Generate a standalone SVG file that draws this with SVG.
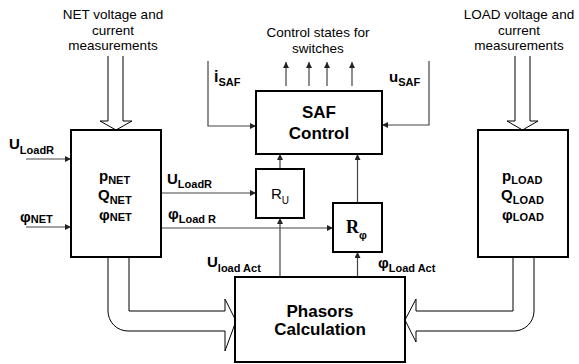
<svg xmlns="http://www.w3.org/2000/svg" width="579" height="364" viewBox="0 0 579 364">
<defs>
<marker id="ah" viewBox="0 0 10 10" refX="10" refY="5" markerWidth="6" markerHeight="6" markerUnits="userSpaceOnUse" orient="auto">
<path d="M0,0 L10,5 L0,10 z" fill="#222"/>
</marker>
<style>
.box{fill:#fff;stroke:#000;stroke-width:2}
.hol{fill:#fff;stroke:#000;stroke-width:1}
.ln{fill:none;stroke:#444;stroke-width:1.2}
.arr{fill:none;stroke:#444;stroke-width:1.2;marker-end:url(#ah)}
text{font-family:"Liberation Sans",Arial,sans-serif;fill:#000}
.cap{font-size:13.5px;text-anchor:middle}
.lbl{font-size:15px;font-weight:bold}
.sub{font-size:11px;font-weight:bold}
.big{font-size:17px;font-weight:bold;text-anchor:middle}
.mid{text-anchor:middle}
</style>
</defs>
<rect width="579" height="364" fill="#fff"/>

<g id="captions">
<text class="cap" x="113" y="19">NET voltage and</text>
<text class="cap" x="113" y="35">current</text>
<text class="cap" x="113" y="50">measurements</text>
<text class="cap" x="318" y="37">Control states for</text>
<text class="cap" x="318" y="53">switches</text>
<text class="cap" x="519" y="19">LOAD voltage and</text>
<text class="cap" x="519" y="35">current</text>
<text class="cap" x="519" y="50">measurements</text>
</g>

<g id="connectors">
<!-- hollow arrows -->
<path class="hol" d="M108,56 V121 H100 L116,130 L132,121 H123 V56"/>
<path class="hol" d="M515,56 V121 H507 L522.5,130 L538,121 H530 V56"/>
<path class="hol" d="M108,257 V311 A20,20 0 0 0 128,331 H225 V351 L236,321 L225,299 V311 H129 V257"/>
<path class="hol" d="M513,257 V311 H416 V299 L405,320 L416,342 V331 H514 A20,20 0 0 0 534,311 V257"/>
<!-- inputs to NET -->
<line class="arr" x1="26" y1="159" x2="71" y2="159"/>
<line class="arr" x1="26" y1="227" x2="71" y2="227"/>
<!-- NET to R blocks -->
<line class="arr" x1="161" y1="193" x2="256" y2="193"/>
<line class="arr" x1="161" y1="228" x2="333" y2="228"/>
<!-- Phasors to R blocks -->
<line class="arr" x1="280" y1="277" x2="280" y2="218"/>
<line class="arr" x1="357.5" y1="277" x2="357.5" y2="252"/>
<!-- R blocks to SAF -->
<line class="arr" x1="280" y1="169" x2="280" y2="154"/>
<line class="arr" x1="357.5" y1="203" x2="357.5" y2="154"/>
<!-- iSAF / uSAF -->
<path class="arr" d="M208,61 V126 H256"/>
<path class="arr" d="M429,61 V125 H382"/>
<!-- outputs -->
<line class="arr" x1="286" y1="86" x2="286" y2="62"/>
<line class="arr" x1="309" y1="86" x2="309" y2="62"/>
<line class="arr" x1="327" y1="86" x2="327" y2="62"/>
<line class="arr" x1="352" y1="86" x2="352" y2="62"/>
</g>

<g id="labels">
<text class="lbl" x="9" y="149">U<tspan class="sub" dy="5">LoadR</tspan></text>
<text class="lbl" x="20" y="222">φ<tspan class="sub" dy="1">NET</tspan></text>
<text class="lbl" x="167" y="184">U<tspan class="sub" dy="4">LoadR</tspan></text>
<text class="lbl" x="168" y="219">φ<tspan class="sub" dy="4">Load R</tspan></text>
<text class="lbl" x="207" y="267">U<tspan class="sub" dy="5">load Act</tspan></text>
<text class="lbl" x="378" y="268">φ<tspan class="sub" dy="4">Load Act</tspan></text>
<text class="lbl" x="214" y="82" style="font-size:16px">i<tspan class="sub" dy="4">SAF</tspan></text>
<text class="lbl" x="389" y="82">u<tspan class="sub" dy="4">SAF</tspan></text>
</g>

<g id="net">
<rect class="box" x="71" y="130" width="90" height="127"/>
<text class="lbl" x="99" y="181">p<tspan class="sub" dy="3">NET</tspan></text>
<text class="lbl" x="98" y="200">Q<tspan class="sub" dy="4">NET</tspan></text>
<text class="lbl" x="99" y="220">φ<tspan class="sub" dy="1">NET</tspan></text>
</g>

<g id="load">
<rect class="box" x="478" y="130" width="90" height="127"/>
<text class="lbl" x="502" y="181">p<tspan class="sub" dy="3">LOAD</tspan></text>
<text class="lbl" x="501" y="200">Q<tspan class="sub" dy="4">LOAD</tspan></text>
<text class="lbl" x="502" y="220">φ<tspan class="sub" dy="1">LOAD</tspan></text>
</g>

<g id="saf">
<rect class="box" x="256" y="91" width="126" height="63"/>
<text class="big" x="319" y="118">SAF</text>
<text class="big" x="319" y="139">Control</text>
</g>

<g id="ru">
<rect class="box" x="256" y="169" width="48" height="49"/>
<text x="271" y="199" style="font-size:15px">R<tspan dy="5" style="font-size:10px">U</tspan></text>
</g>

<g id="rphi">
<rect class="box" x="333" y="203" width="49" height="49"/>
<text x="346" y="233" style="font-family:'Liberation Serif','Times New Roman',serif;font-size:18px;font-weight:bold">R<tspan dy="6" style="font-family:'Liberation Sans',Arial,sans-serif;font-size:11px">φ</tspan></text>
</g>

<g id="phasors">
<rect class="box" x="235" y="277" width="170" height="85"/>
<text class="big" x="320" y="317">Phasors</text>
<text class="big" x="320" y="335">Calculation</text>
</g>
</svg>
